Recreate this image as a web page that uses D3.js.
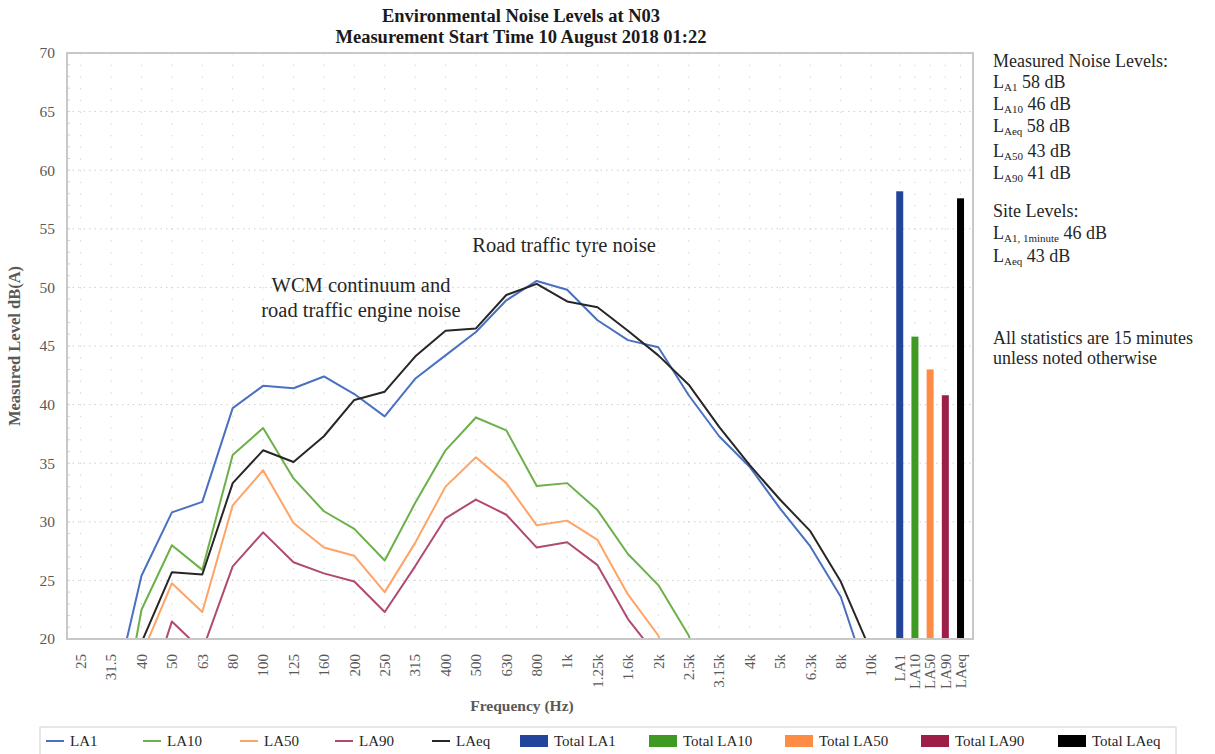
<!DOCTYPE html>
<html><head><meta charset="utf-8">
<script src="https://cdn.jsdelivr.net/npm/d3@7"></script>
<style>
html,body{margin:0;padding:0;background:#fff;}
svg{display:block;font-family:"Liberation Serif","DejaVu Serif",serif;}
</style></head>
<body><svg id="c" width="1215" height="754"></svg>
<script>
const freqLabels = ["25","31.5","40","50","63","80","100","125","160","200","250","315","400","500","630","800","1k","1.25k","1.6k","2k","2.5k","3.15k","4k","5k","6.3k","8k","10k"];
const LA1  = [9, 14.2, 25.4, 30.8, 31.7, 39.7, 41.6, 41.4, 42.4, 40.9, 39.0, 42.2, 44.2, 46.2, 48.9, 50.55, 49.8, 47.2, 45.5, 44.9, 40.8, 37.3, 34.7, 31.15, 27.9, 23.6, 15.8];
const LA10 = [5, 8.2, 22.5, 28.0, 25.9, 35.7, 38.0, 33.7, 30.9, 29.4, 26.7, 31.6, 36.1, 38.9, 37.8, 33.05, 33.3, 31.0, 27.25, 24.6, 20.3, 12, 9, 7, 5, 3, 2];
const LA50 = [4, 10, 18.6, 24.75, 22.3, 31.4, 34.4, 29.9, 27.8, 27.1, 24.0, 28.2, 33.0, 35.5, 33.3, 29.7, 30.1, 28.45, 23.8, 20.3, 12, 9, 7, 5, 3, 2, 1];
const LA90 = [3, 8, 13.5, 21.5, 19.0, 26.2, 29.1, 26.55, 25.6, 24.9, 22.3, 26.2, 30.3, 31.9, 30.6, 27.8, 28.25, 26.3, 21.7, 18.4, 12, 9, 7, 5, 3, 2, 1];
const LAeq = [8, 12, 19.7, 25.7, 25.5, 33.3, 36.1, 35.1, 37.3, 40.4, 41.1, 44.1, 46.3, 46.5, 49.35, 50.3, 48.8, 48.3, 46.3, 44.2, 41.7, 38.1, 34.85, 31.9, 29.2, 24.9, 18.9];
const totalLabels = ["LA1","LA10","LA50","LA90","LAeq"];
const totalValues = [58.2, 45.8, 43.0, 40.8, 57.6];
const yTicks = [20,25,30,35,40,45,50,55,60,65,70];

const lineSeries = [
  {name:"LA1", values:LA1, color:"#4a70c0"},
  {name:"LA10", values:LA10, color:"#6cb04a"},
  {name:"LA50", values:LA50, color:"#ffa366"},
  {name:"LA90", values:LA90, color:"#b04a72"},
  {name:"LAeq", values:LAeq, color:"#262626"}
];
const barColors = ["#22459b","#3f9a23","#ff8c45","#9d1f47","#000000"];

const svg = d3.select("#c");
const L = 67, R = 973, T = 53, B = 639;
const nF = freqLabels.length;
const x = d3.scaleLinear().domain([-0.45, nF + 2.35]).range([L, R]);
const y = d3.scaleLinear().domain([20, 70]).range([B, T]);
const totalPos = totalLabels.map((d,i) => nF - 0.06 + i*0.5);
const allPos = d3.range(nF).concat(totalPos);
const allLabels = freqLabels.concat(totalLabels);

// grid
const g = svg.append("g");
g.selectAll("line.hg").data(yTicks.filter(d=>d>20&&d<70)).join("line")
  .attr("x1", L).attr("x2", R).attr("y1", d=>y(d)).attr("y2", d=>y(d))
  .attr("stroke","#cfcfcf").attr("stroke-width",1).attr("stroke-dasharray","1.5,4");
g.selectAll("line.vg").data(allPos).join("line")
  .attr("x1", d=>x(d)).attr("x2", d=>x(d)).attr("y1", T).attr("y2", B)
  .attr("stroke","#d6d6d6").attr("stroke-width",1).attr("stroke-dasharray","1.5,10.2");
g.selectAll("line.mt").data(d3.range(21,70)).join("line")
  .attr("x1", L).attr("x2", L+3).attr("y1", d=>y(d)).attr("y2", d=>y(d))
  .attr("stroke","#d0d0d0").attr("stroke-width",1);

svg.append("clipPath").attr("id","clip").append("rect")
  .attr("x", L).attr("y", T).attr("width", R-L).attr("height", B-T);

const line = d3.line().x((d,i)=>x(i)).y(d=>y(d));
svg.append("g").attr("clip-path","url(#clip)")
  .selectAll("path").data(lineSeries).join("path")
  .attr("d", d=>line(d.values)).attr("fill","none")
  .attr("stroke", d=>d.color).attr("stroke-width",2).attr("stroke-linejoin","round");

const bw = 7;
svg.append("g").selectAll("rect").data(totalValues).join("rect")
  .attr("x",(d,i)=>x(totalPos[i])-bw/2).attr("width",bw)
  .attr("y", d=>y(d)).attr("height", d=>y(20)-y(d))
  .attr("fill",(d,i)=>barColors[i]);

svg.append("rect").attr("x",L).attr("y",T).attr("width",R-L).attr("height",B-T)
  .attr("fill","none").attr("stroke","#c8c8c8").attr("stroke-width",2);

const ya = svg.append("g").attr("transform",`translate(${L},0)`)
  .call(d3.axisLeft(y).tickValues(yTicks).tickSize(0).tickPadding(12));
ya.select(".domain").remove();
ya.selectAll("text").attr("font-family","Liberation Serif, serif").attr("font-size",15.5).attr("fill","#595959");

const xg = svg.append("g");
xg.selectAll("text").data(allPos).join("text")
  .attr("transform", d=>`translate(${x(d)},${B+15}) rotate(-90)`)
  .attr("text-anchor","end").attr("dy","0.35em")
  .attr("font-size",15).attr("fill","#595959")
  .text((d,i)=>allLabels[i]);

svg.append("text").attr("transform","translate(20,346) rotate(-90)")
  .attr("text-anchor","middle").attr("font-size",16.5).attr("font-weight","bold")
  .attr("fill","#595959").text("Measured Level dB(A)");
svg.append("text").attr("x",522).attr("y",711).attr("text-anchor","middle")
  .attr("font-size",15.5).attr("font-weight","bold").attr("fill","#595959").text("Frequency (Hz)");

svg.append("text").attr("x",521).attr("y",22).attr("text-anchor","middle")
  .attr("font-size",18.5).attr("font-weight","bold").attr("fill","#1a1a1a")
  .text("Environmental Noise Levels at N03");
svg.append("text").attr("x",521).attr("y",43).attr("text-anchor","middle")
  .attr("font-size",18.5).attr("font-weight","bold").attr("fill","#1a1a1a")
  .text("Measurement Start Time 10 August 2018 01:22");

const ann = svg.append("g").attr("font-size",20.5).attr("fill","#262626").attr("text-anchor","middle");
ann.append("text").attr("x",361).attr("y",292).text("WCM continuum and");
ann.append("text").attr("x",361).attr("y",317).text("road traffic engine noise");
ann.append("text").attr("x",564).attr("y",252).text("Road traffic tyre noise");

const rp = svg.append("g").attr("font-size",18).attr("fill","#262626");
function sub(yy, sb, rest){
  const t = rp.append("text").attr("x",993).attr("y",yy);
  t.append("tspan").text("L");
  t.append("tspan").attr("font-size",11).attr("dy",3).text(sb);
  t.append("tspan").attr("dy",-3).text(" "+rest);
}
rp.append("text").attr("x",993).attr("y",67).text("Measured Noise Levels:");
sub(88,"A1","58 dB");
sub(110,"A10","46 dB");
sub(132,"Aeq","58 dB");
sub(157,"A50","43 dB");
sub(179,"A90","41 dB");
rp.append("text").attr("x",993).attr("y",217).text("Site Levels:");
sub(239,"A1, 1minute","46 dB");
sub(262,"Aeq","43 dB");
rp.append("text").attr("x",993).attr("y",344).text("All statistics are 15 minutes");
rp.append("text").attr("x",993).attr("y",364).text("unless noted otherwise");

const lg = svg.append("g");
lg.append("rect").attr("x",40).attr("y",727).attr("width",1136).attr("height",28)
  .attr("fill","#fff").attr("stroke","#d0d0d0").attr("stroke-width",1);
const legLineX = [46,143,240,335,432];
lineSeries.forEach((s,i)=>{
  lg.append("line").attr("x1",legLineX[i]).attr("x2",legLineX[i]+18).attr("y1",741).attr("y2",741)
    .attr("stroke",s.color).attr("stroke-width",2);
  lg.append("text").attr("x",legLineX[i]+24).attr("y",746).attr("font-size",15).attr("fill","#262626").text(s.name);
});
const legBarX = [520,649,785,921,1058];
totalLabels.forEach((s,i)=>{
  lg.append("rect").attr("x",legBarX[i]).attr("y",735).attr("width",28).attr("height",12)
    .attr("fill",barColors[i]);
  lg.append("text").attr("x",legBarX[i]+34).attr("y",746).attr("font-size",15).attr("fill","#262626").text("Total "+s);
});
</script></body></html>
